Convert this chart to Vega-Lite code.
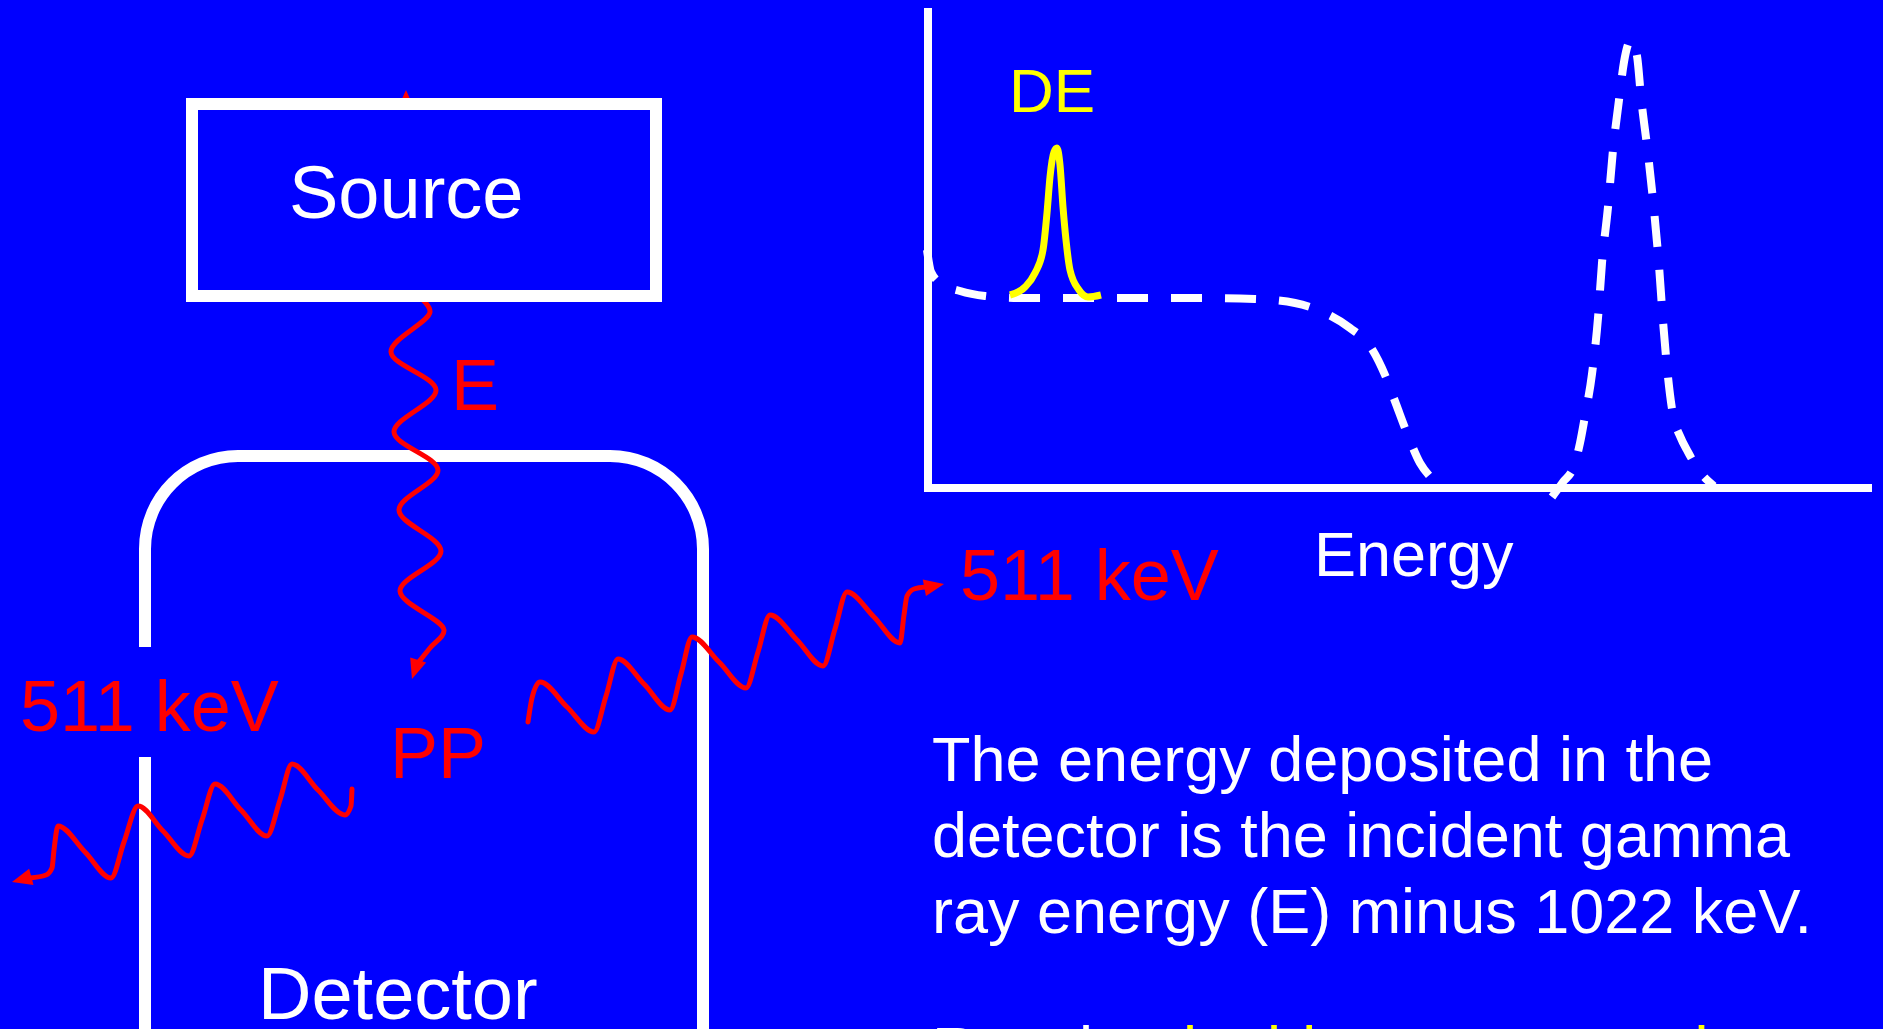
{
  "$schema": "https://vega.github.io/schema/vega-lite/v6.json",
  "width": 1883,
  "height": 1029,
  "autosize": {"type": "fit", "contains": "padding"},
  "padding": 0,
  "background": "#0000FF",
  "config": {"view": {"stroke": null}},
  "datasets": {
    "shapes": [
      {"part": "detector", "x": 145, "x2": 703, "y": 456, "y2": 1130},
      {"part": "gap", "x": 132, "x2": 158, "y": 647, "y2": 757},
      {"part": "source", "x": 192, "x2": 656, "y": 104, "y2": 296}
    ],
    "rays": [
      {"ray": "incident", "seq": 1, "x": 421, "y": 298},
      {"ray": "incident", "seq": 2, "x": 430, "y": 312},
      {"ray": "incident", "seq": 4, "x": 391, "y": 352},
      {"ray": "incident", "seq": 6, "x": 436, "y": 390},
      {"ray": "incident", "seq": 8, "x": 394, "y": 432},
      {"ray": "incident", "seq": 10, "x": 438, "y": 470},
      {"ray": "incident", "seq": 12, "x": 399, "y": 510},
      {"ray": "incident", "seq": 14, "x": 441, "y": 551},
      {"ray": "incident", "seq": 16, "x": 400, "y": 591},
      {"ray": "incident", "seq": 18, "x": 444, "y": 630},
      {"ray": "incident", "seq": 19, "x": 430, "y": 648},
      {"ray": "incident", "seq": 20, "x": 417, "y": 664},
      {"ray": "right", "seq": 1, "x": 528, "y": 722},
      {"ray": "right", "seq": 2, "x": 532, "y": 698},
      {"ray": "right", "seq": 3, "x": 540, "y": 682},
      {"ray": "right", "seq": 4, "x": 567, "y": 707},
      {"ray": "right", "seq": 5, "x": 594, "y": 732},
      {"ray": "right", "seq": 6, "x": 606, "y": 696},
      {"ray": "right", "seq": 7, "x": 618, "y": 659},
      {"ray": "right", "seq": 8, "x": 644, "y": 684},
      {"ray": "right", "seq": 9, "x": 670, "y": 710},
      {"ray": "right", "seq": 10, "x": 681, "y": 674},
      {"ray": "right", "seq": 11, "x": 692, "y": 637},
      {"ray": "right", "seq": 12, "x": 719, "y": 662},
      {"ray": "right", "seq": 13, "x": 746, "y": 688},
      {"ray": "right", "seq": 14, "x": 758, "y": 652},
      {"ray": "right", "seq": 15, "x": 770, "y": 615},
      {"ray": "right", "seq": 16, "x": 797, "y": 640},
      {"ray": "right", "seq": 17, "x": 823, "y": 666},
      {"ray": "right", "seq": 18, "x": 835, "y": 629},
      {"ray": "right", "seq": 19, "x": 847, "y": 592},
      {"ray": "right", "seq": 20, "x": 874, "y": 617},
      {"ray": "right", "seq": 21, "x": 900, "y": 643},
      {"ray": "right", "seq": 22, "x": 904, "y": 615},
      {"ray": "right", "seq": 23, "x": 907, "y": 596},
      {"ray": "right", "seq": 24, "x": 914, "y": 589},
      {"ray": "right", "seq": 25, "x": 926, "y": 587},
      {"ray": "left", "seq": 1, "x": 352, "y": 789},
      {"ray": "left", "seq": 2, "x": 351, "y": 806},
      {"ray": "left", "seq": 3, "x": 345, "y": 815},
      {"ray": "left", "seq": 4, "x": 318, "y": 790},
      {"ray": "left", "seq": 5, "x": 292, "y": 764},
      {"ray": "left", "seq": 6, "x": 280, "y": 800},
      {"ray": "left", "seq": 7, "x": 267, "y": 836},
      {"ray": "left", "seq": 8, "x": 241, "y": 810},
      {"ray": "left", "seq": 9, "x": 215, "y": 784},
      {"ray": "left", "seq": 10, "x": 202, "y": 820},
      {"ray": "left", "seq": 11, "x": 189, "y": 856},
      {"ray": "left", "seq": 12, "x": 163, "y": 831},
      {"ray": "left", "seq": 13, "x": 138, "y": 806},
      {"ray": "left", "seq": 14, "x": 124, "y": 842},
      {"ray": "left", "seq": 15, "x": 111, "y": 878},
      {"ray": "left", "seq": 16, "x": 85, "y": 852},
      {"ray": "left", "seq": 17, "x": 58, "y": 826},
      {"ray": "left", "seq": 18, "x": 54, "y": 850},
      {"ray": "left", "seq": 19, "x": 52, "y": 868},
      {"ray": "left", "seq": 20, "x": 46, "y": 875},
      {"ray": "left", "seq": 21, "x": 30, "y": 878}
    ],
    "heads": [
      {"ray": "hidden", "x": 406, "y": 90, "heading": -90},
      {"ray": "incident", "x": 412, "y": 679, "heading": 108},
      {"ray": "right", "x": 944, "y": 584, "heading": -11},
      {"ray": "left", "x": 12, "y": 882, "heading": 165}
    ],
    "axes": [
      {"axis": "counts", "x": 928, "x2": 928, "y": 8, "y2": 492},
      {"axis": "energy", "x": 924, "x2": 1872, "y": 488, "y2": 488}
    ],
    "spectrum": [
      {"series": "continuum", "seq": 1, "x": 927, "y": 250},
      {"series": "continuum", "seq": 2, "x": 931, "y": 272},
      {"series": "continuum", "seq": 3, "x": 942, "y": 284},
      {"series": "continuum", "seq": 4, "x": 960, "y": 291},
      {"series": "continuum", "seq": 5, "x": 985, "y": 296},
      {"series": "continuum", "seq": 6, "x": 1020, "y": 298},
      {"series": "continuum", "seq": 7, "x": 1100, "y": 298},
      {"series": "continuum", "seq": 8, "x": 1200, "y": 298},
      {"series": "continuum", "seq": 9, "x": 1255, "y": 299},
      {"series": "continuum", "seq": 10, "x": 1295, "y": 303},
      {"series": "continuum", "seq": 11, "x": 1325, "y": 313},
      {"series": "continuum", "seq": 12, "x": 1350, "y": 328},
      {"series": "continuum", "seq": 13, "x": 1370, "y": 346},
      {"series": "continuum", "seq": 14, "x": 1385, "y": 375},
      {"series": "continuum", "seq": 15, "x": 1396, "y": 404},
      {"series": "continuum", "seq": 16, "x": 1407, "y": 433},
      {"series": "continuum", "seq": 17, "x": 1420, "y": 463},
      {"series": "continuum", "seq": 18, "x": 1432, "y": 479},
      {"series": "continuum", "seq": 19, "x": 1442, "y": 490},
      {"series": "fullenergy", "seq": 1, "x": 1552, "y": 497},
      {"series": "fullenergy", "seq": 2, "x": 1563, "y": 482},
      {"series": "fullenergy", "seq": 3, "x": 1574, "y": 466},
      {"series": "fullenergy", "seq": 4, "x": 1580, "y": 443},
      {"series": "fullenergy", "seq": 5, "x": 1585, "y": 416},
      {"series": "fullenergy", "seq": 6, "x": 1592, "y": 374},
      {"series": "fullenergy", "seq": 7, "x": 1598, "y": 318},
      {"series": "fullenergy", "seq": 8, "x": 1602, "y": 263},
      {"series": "fullenergy", "seq": 9, "x": 1608, "y": 207},
      {"series": "fullenergy", "seq": 10, "x": 1613, "y": 150},
      {"series": "fullenergy", "seq": 11, "x": 1619, "y": 100},
      {"series": "fullenergy", "seq": 12, "x": 1624, "y": 62},
      {"series": "fullenergy", "seq": 13, "x": 1631, "y": 40},
      {"series": "fullenergy", "seq": 14, "x": 1637, "y": 56},
      {"series": "fullenergy", "seq": 15, "x": 1641, "y": 97},
      {"series": "fullenergy", "seq": 16, "x": 1648, "y": 154},
      {"series": "fullenergy", "seq": 17, "x": 1654, "y": 210},
      {"series": "fullenergy", "seq": 18, "x": 1659, "y": 266},
      {"series": "fullenergy", "seq": 19, "x": 1663, "y": 321},
      {"series": "fullenergy", "seq": 20, "x": 1668, "y": 377},
      {"series": "fullenergy", "seq": 21, "x": 1673, "y": 415},
      {"series": "fullenergy", "seq": 22, "x": 1680, "y": 436},
      {"series": "fullenergy", "seq": 23, "x": 1688, "y": 452},
      {"series": "fullenergy", "seq": 24, "x": 1700, "y": 472},
      {"series": "fullenergy", "seq": 25, "x": 1714, "y": 486},
      {"series": "doubleescape", "seq": 1, "x": 1010, "y": 295},
      {"series": "doubleescape", "seq": 2, "x": 1025, "y": 287},
      {"series": "doubleescape", "seq": 3, "x": 1035, "y": 273},
      {"series": "doubleescape", "seq": 4, "x": 1043, "y": 250},
      {"series": "doubleescape", "seq": 5, "x": 1047, "y": 213},
      {"series": "doubleescape", "seq": 6, "x": 1050, "y": 177},
      {"series": "doubleescape", "seq": 7, "x": 1054, "y": 152},
      {"series": "doubleescape", "seq": 8, "x": 1057, "y": 148},
      {"series": "doubleescape", "seq": 9, "x": 1060, "y": 165},
      {"series": "doubleescape", "seq": 10, "x": 1063, "y": 207},
      {"series": "doubleescape", "seq": 11, "x": 1066, "y": 240},
      {"series": "doubleescape", "seq": 12, "x": 1070, "y": 270},
      {"series": "doubleescape", "seq": 13, "x": 1079, "y": 290},
      {"series": "doubleescape", "seq": 14, "x": 1088, "y": 297},
      {"series": "doubleescape", "seq": 15, "x": 1101, "y": 295}
    ],
    "labels": [
      {"style": "box", "text": "Source", "x": 289, "y": 218},
      {"style": "box", "text": "Detector", "x": 258, "y": 1019},
      {"style": "ray", "text": "E", "x": 451, "y": 410},
      {"style": "ray", "text": "PP", "x": 390, "y": 778},
      {"style": "ray", "text": "511 keV", "x": 20, "y": 731},
      {"style": "ray", "text": "511 keV", "x": 960, "y": 600},
      {"style": "peak", "text": "DE", "x": 1009, "y": 112},
      {"style": "body", "text": "Energy", "x": 1314, "y": 576},
      {"style": "body", "text": "The energy deposited in the", "x": 932, "y": 781},
      {"style": "body", "text": "detector is the incident gamma", "x": 932, "y": 857},
      {"style": "body", "text": "ray energy (E) minus 1022 keV.", "x": 932, "y": 933},
      {"style": "body", "text": "Result:", "x": 932, "y": 1071},
      {"style": "highlight", "text": "double escape peak", "x": 1162, "y": 1071}
    ]
  },
  "encoding": {
    "x": {"field": "x", "type": "quantitative", "scale": {"domain": [0, 1883], "nice": false, "zero": false}, "axis": null},
    "y": {"field": "y", "type": "quantitative", "scale": {"domain": [0, 1029], "nice": false, "zero": false, "reverse": true}, "axis": null}
  },
  "layer": [
    {
      "data": {"name": "shapes"},
      "transform": [{"filter": "datum.part == 'detector'"}],
      "mark": {"type": "rect", "fill": "transparent", "stroke": "#FFFFFF", "strokeWidth": 12, "cornerRadiusTopLeft": 93, "cornerRadiusTopRight": 93, "clip": true},
      "encoding": {"x2": {"field": "x2"}, "y2": {"field": "y2"}}
    },
    {
      "data": {"name": "shapes"},
      "transform": [{"filter": "datum.part == 'gap'"}],
      "mark": {"type": "rect", "fill": "#0000FF", "strokeWidth": 0},
      "encoding": {"x2": {"field": "x2"}, "y2": {"field": "y2"}}
    },
    {
      "data": {"name": "heads"},
      "transform": [{"filter": "datum.ray == 'hidden'"}],
      "mark": {"type": "point", "shape": "M0,0L-1,-0.45L-1,0.45Z", "filled": true, "fill": "#FF0000", "strokeWidth": 0, "opacity": 1, "size": 1600},
      "encoding": {"angle": {"field": "heading", "type": "quantitative", "scale": null}}
    },
    {
      "data": {"name": "rays"},
      "transform": [{"filter": "datum.ray == 'incident'"}],
      "mark": {"type": "line", "color": "#FF0000", "strokeWidth": 5, "interpolate": "catmull-rom", "strokeCap": "round"},
      "encoding": {"order": {"field": "seq", "type": "quantitative"}, "detail": {"field": "ray"}}
    },
    {
      "data": {"name": "shapes"},
      "transform": [{"filter": "datum.part == 'source'"}],
      "mark": {"type": "rect", "fill": "#0000FF", "stroke": "#FFFFFF", "strokeWidth": 12},
      "encoding": {"x2": {"field": "x2"}, "y2": {"field": "y2"}}
    },
    {
      "data": {"name": "rays"},
      "transform": [{"filter": "datum.ray != 'incident'"}],
      "mark": {"type": "line", "color": "#FF0000", "strokeWidth": 5, "interpolate": "monotone", "strokeCap": "round"},
      "encoding": {"order": {"field": "seq", "type": "quantitative"}, "detail": {"field": "ray"}}
    },
    {
      "data": {"name": "heads"},
      "transform": [{"filter": "datum.ray != 'hidden'"}],
      "mark": {"type": "point", "shape": "M0,0L-1,-0.42L-1,0.42Z", "filled": true, "fill": "#FF0000", "strokeWidth": 0, "opacity": 1, "size": 1600},
      "encoding": {"angle": {"field": "heading", "type": "quantitative", "scale": null}}
    },
    {
      "data": {"name": "axes"},
      "mark": {"type": "rule", "color": "#FFFFFF", "strokeWidth": 8, "strokeCap": "butt"},
      "encoding": {"x2": {"field": "x2"}, "y2": {"field": "y2"}}
    },
    {
      "data": {"name": "spectrum"},
      "transform": [{"filter": "datum.series != 'doubleescape'"}],
      "mark": {"type": "line", "color": "#FFFFFF", "strokeWidth": 8, "strokeDash": [31, 23], "interpolate": "monotone", "strokeCap": "butt"},
      "encoding": {"order": {"field": "seq", "type": "quantitative"}, "detail": {"field": "series"}}
    },
    {
      "data": {"name": "spectrum"},
      "transform": [{"filter": "datum.series == 'doubleescape'"}],
      "mark": {"type": "line", "color": "#FFFF00", "strokeWidth": 7, "interpolate": "monotone", "strokeCap": "butt"},
      "encoding": {"order": {"field": "seq", "type": "quantitative"}}
    },
    {
      "data": {"name": "labels"},
      "transform": [{"filter": "datum.style == 'box'"}],
      "mark": {"type": "text", "font": "Liberation Sans", "fontSize": 74, "color": "#FFFFFF", "align": "left", "baseline": "alphabetic", "clip": true},
      "encoding": {"text": {"field": "text"}}
    },
    {
      "data": {"name": "labels"},
      "transform": [{"filter": "datum.style == 'ray'"}],
      "mark": {"type": "text", "font": "Liberation Sans", "fontSize": 72, "color": "#FF0000", "align": "left", "baseline": "alphabetic"},
      "encoding": {"text": {"field": "text"}}
    },
    {
      "data": {"name": "labels"},
      "transform": [{"filter": "datum.style == 'peak'"}],
      "mark": {"type": "text", "font": "Liberation Sans", "fontSize": 62, "color": "#FFFF00", "align": "left", "baseline": "alphabetic"},
      "encoding": {"text": {"field": "text"}}
    },
    {
      "data": {"name": "labels"},
      "transform": [{"filter": "datum.style == 'body'"}],
      "mark": {"type": "text", "font": "Liberation Sans", "fontSize": 63, "color": "#FFFFFF", "align": "left", "baseline": "alphabetic", "clip": true},
      "encoding": {"text": {"field": "text"}}
    },
    {
      "data": {"name": "labels"},
      "transform": [{"filter": "datum.style == 'highlight'"}],
      "mark": {"type": "text", "font": "Liberation Sans", "fontSize": 63, "color": "#FFFF00", "align": "left", "baseline": "alphabetic", "clip": true},
      "encoding": {"text": {"field": "text"}}
    }
  ]
}
